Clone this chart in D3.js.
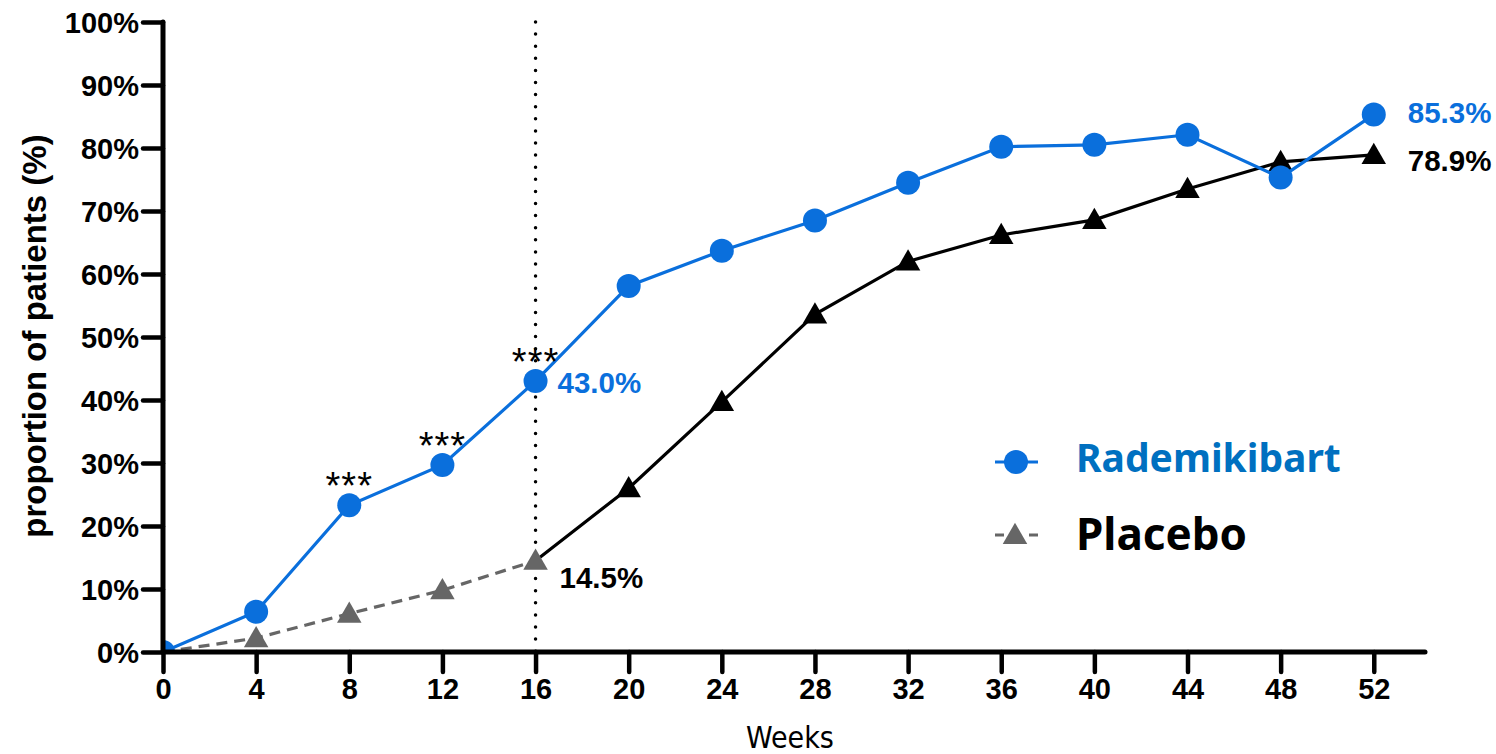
<!DOCTYPE html>
<html>
<head>
<meta charset="utf-8">
<script src="https://cdn.jsdelivr.net/npm/d3@7"></script>
<style>
    body { margin: 0; background: #fff; }
    svg { display: block; }
    .tick text { font-family: "Liberation Sans", Arial, sans-serif; font-weight: bold; }
</style>
</head>
<body>
<svg id="chart"></svg>
<script>
const weeks = [0, 4, 8, 12, 16, 20, 24, 28, 32, 36, 40, 44, 48, 52]
const rademikibart = [0, 6.4, 23.3, 29.7, 43.0, 58.1, 63.7, 68.5, 74.5, 80.2, 80.5, 82.1, 75.3, 85.3]
const placebo = [0, 2.2, 6.1, 9.8, 14.5, 26.0, 39.7, 53.6, 62.0, 66.2, 68.6, 73.5, 77.8, 78.9]
const yTicks = [0, 10, 20, 30, 40, 50, 60, 70, 80, 90, 100]
const stars = [8, 12, 16]
const valueLabels = [
    {series: 'r', week: 16, text: '43.0%'},
    {series: 'p', week: 16, text: '14.5%'},
    {series: 'r', week: 52, text: '85.3%'},
    {series: 'p', week: 52, text: '78.9%'}
]
const names = ['Rademikibart', 'Placebo']
const xMax = 54.2
const cutoff = 16   // end of the placebo-controlled period

const blue = '#0a6fdc'
const grey = '#666666'

const width = 1496, height = 754
const margin = {top: 22, right: 71, bottom: 102, left: 163}

const svg = d3.select('#chart').attr('width', width).attr('height', height)

const x = d3.scaleLinear().domain([0, xMax]).range([margin.left, width - margin.right])
const y = d3.scaleLinear().domain([0, 100]).range([height - margin.bottom, margin.top])

const rows = weeks.map((w, i) => ({week: w, r: rademikibart[i], p: placebo[i]}))

svg.append('defs').append('clipPath').attr('id', 'plot')
    .append('rect')
    .attr('x', x(0)).attr('y', 0)
    .attr('width', width - x(0)).attr('height', y(0))

// dotted line at week 16
svg.append('line')
    .attr('x1', x(cutoff)).attr('x2', x(cutoff))
    .attr('y1', y(100)).attr('y2', y(0))
    .attr('stroke', '#000')
    .attr('stroke-width', 3.5)
    .attr('stroke-linecap', 'round')
    .attr('stroke-dasharray', '0 12.1')

const line = key => d3.line().x(d => x(d.week)).y(d => y(d[key]))
const tri = d3.symbol().type(d3.symbolTriangle).size(260)
const g = svg.append('g').attr('clip-path', 'url(#plot)')

// placebo: dashed grey while blinded, solid black afterwards
g.append('path')
    .datum(rows.filter(d => d.week <= cutoff))
    .attr('d', line('p'))
    .attr('fill', 'none').attr('stroke', grey).attr('stroke-width', 3.2)
    .attr('stroke-dasharray', '11 7')
g.append('path')
    .datum(rows.filter(d => d.week >= cutoff))
    .attr('d', line('p'))
    .attr('fill', 'none').attr('stroke', '#000').attr('stroke-width', 3.2)
g.selectAll('path.tri').data(rows).enter().append('path')
    .classed('tri', true)
    .attr('d', tri)
    .attr('transform', d => `translate(${x(d.week)}, ${y(d.p) + 2})`)
    .attr('fill', d => d.week <= cutoff ? grey : '#000')

// rademikibart
g.append('path')
    .datum(rows)
    .attr('d', line('r'))
    .attr('fill', 'none').attr('stroke', blue).attr('stroke-width', 3.2)
g.selectAll('circle').data(rows).enter().append('circle')
    .attr('cx', d => x(d.week))
    .attr('cy', d => y(d.r))
    .attr('r', 12)
    .attr('fill', blue)

// axes
const axisY = svg.append('g')
    .attr('transform', `translate(${x(0)}, 0)`)
    .call(d3.axisLeft(y).tickValues(yTicks).tickFormat(d => d + '%').tickSize(20).tickPadding(4))
const axisX = svg.append('g')
    .attr('transform', `translate(0, ${y(0)})`)
    .call(d3.axisBottom(x).tickValues(weeks).tickSize(20).tickPadding(6))

for (const a of [axisY, axisX]) {
    a.select('.domain').attr('stroke-width', 5).attr('stroke-linecap', 'round')
        .attr('d', a === axisY ? `M0,${y(0)}V${y(100)}` : `M${x(0)},0H${x(xMax)}`)
    a.selectAll('.tick line').attr('stroke-width', 4.5).attr('stroke-linecap', 'round')
    a.selectAll('.tick text').attr('font-size', 29).attr('fill', '#000')
}
axisY.selectAll('.tick text').attr('dy', '0.36em')
axisX.selectAll('.tick text').attr('dy', '0.74em')

svg.append('text')
    .attr('transform', `translate(46, ${y(0) - 316}) rotate(-90)`)
    .attr('text-anchor', 'middle')
    .attr('font-family', '"Liberation Sans", Arial, sans-serif')
    .attr('font-weight', 'bold')
    .attr('font-size', 33)
    .text('proportion of patients (%)')

svg.append('text')
    .attr('x', 790).attr('y', 748)
    .attr('text-anchor', 'middle')
    .attr('font-family', '"Liberation Sans Narrow", "DejaVu Sans Condensed", sans-serif')
    .attr('font-size', 30)
    .text('Weeks')

// significance stars
svg.selectAll('text.star').data(rows.filter(d => stars.includes(d.week))).enter().append('text')
    .classed('star', true)
    .attr('x', d => x(d.week))
    .attr('y', d => y(d.r) - 6)
    .attr('text-anchor', 'middle')
    .attr('font-family', '"Liberation Sans", Arial, sans-serif')
    .attr('font-size', 38)
    .attr('letter-spacing', 1)
    .text('***')

// end-point values
const labelDx = d => d.week === cutoff ? (d.series === 'r' ? 22 : 24) : 34
const labelDy = d => d.week === cutoff ? (d.series === 'r' ? 12 : 27) : (d.series === 'r' ? 8 : 16)
svg.selectAll('text.value').data(valueLabels).enter().append('text')
    .classed('value', true)
    .attr('x', d => x(d.week) + labelDx(d))
    .attr('y', d => y(rows.find(r => r.week === d.week)[d.series]) + labelDy(d))
    .attr('font-family', '"Liberation Sans", Arial, sans-serif')
    .attr('font-weight', 'bold')
    .attr('font-size', 29.5)
    .attr('fill', d => d.series === 'r' ? blue : '#000')
    .text(d => d.text)

// legend
const legend = svg.append('g').attr('transform', 'translate(995, 462)')
legend.append('line').attr('x1', 0).attr('x2', 43)
    .attr('stroke', blue).attr('stroke-width', 3)
legend.append('circle').attr('cx', 21).attr('r', 12).attr('fill', blue)
legend.append('line').attr('x1', 0).attr('x2', 43).attr('y1', 73).attr('y2', 73)
    .attr('stroke', grey).attr('stroke-width', 3).attr('stroke-dasharray', '9 25')
legend.append('path').attr('d', tri).attr('transform', 'translate(20, 75)').attr('fill', grey)
legend.selectAll('text').data(names).enter().append('text')
    .attr('x', 81)
    .attr('y', (d, i) => i === 0 ? 10 : 88)
    .attr('font-family', '"Noto Sans", "Open Sans", sans-serif')
    .attr('font-weight', 'bold')
    .attr('font-size', (d, i) => i === 0 ? 39 : 44)
    .attr('fill', (d, i) => i === 0 ? '#0070c0' : '#000')
    .text(d => d)
</script>
</body>
</html>
